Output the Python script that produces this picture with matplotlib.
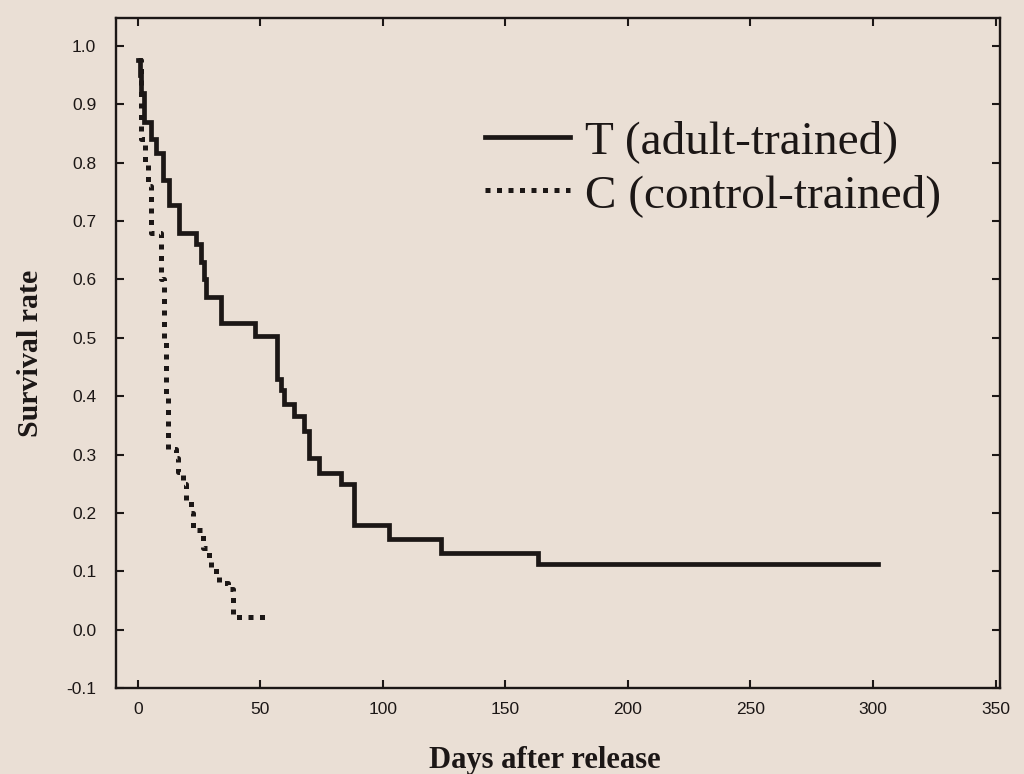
import matplotlib
matplotlib.use("Agg")
import matplotlib.pyplot as plt

# Data (Kaplan-Meier style step curves)
t_days = [0, 0.8, 1.5, 2.4, 5.3, 7.3, 10.2, 12.7, 17, 23.7, 25.7, 27, 28, 33.9,
          48, 57, 58.4, 59.6, 63.7, 67.8, 69.8, 73.9, 82.9, 88.2, 102.4, 123.7,
          163.3, 302]
t_surv = [0.976, 0.95, 0.92, 0.87, 0.84, 0.816, 0.77, 0.727, 0.68, 0.66, 0.63,
          0.60, 0.569, 0.526, 0.503, 0.43, 0.41, 0.387, 0.366, 0.34, 0.294,
          0.268, 0.249, 0.18, 0.156, 0.131, 0.112, 0.112]

c_days = [0, 1.5, 3, 4, 5.5, 9.5, 10.5, 11.5, 12.5, 15.5, 16.5, 18.4, 19.5,
          21.6, 22.5, 26.5, 29, 30, 33, 36.7, 38.8, 52]
c_surv = [0.976, 0.84, 0.80, 0.76, 0.68, 0.60, 0.50, 0.40, 0.31, 0.294, 0.27,
          0.25, 0.22, 0.20, 0.17, 0.14, 0.12, 0.10, 0.08, 0.07, 0.022, 0.022]

legend_labels = ["T (adult-trained)", "C (control-trained)"]
x_ticks = [0, 50, 100, 150, 200, 250, 300, 350]
y_ticks = [-0.1, 0.0, 0.1, 0.2, 0.3, 0.4, 0.5, 0.6, 0.7, 0.8, 0.9, 1.0]

bg = "#eadfd5"
ink = "#1c1716"

fig = plt.figure(figsize=(10.24, 7.74), dpi=100, facecolor=bg)
ax = fig.add_axes([0.113, 0.111, 0.864, 0.866], facecolor=bg)

l1, = ax.plot(t_days, t_surv, drawstyle="steps-post", color=ink, lw=3.4,
              solid_joinstyle="miter")
l2, = ax.plot(c_days, c_surv, drawstyle="steps-post", color=ink, lw=3.6,
              linestyle=(0, (1, 1.3)), dash_capstyle="butt")

ax.set_xlim(-9, 352)
ax.set_ylim(-0.1, 1.048)
ax.set_xticks(x_ticks)
ax.set_yticks(y_ticks)
ax.set_xticklabels([str(v) for v in x_ticks])
ax.set_yticklabels([f"{v:.1f}" for v in y_ticks])

ax.tick_params(direction="in", length=6, width=1.5, color=ink,
               top=True, right=True, labeltop=False, labelright=False,
               labelsize=12.5, labelcolor=ink)
ax.tick_params(axis="y", pad=14)
ax.tick_params(axis="x", pad=10)
for lab in ax.get_xticklabels() + ax.get_yticklabels():
    lab.set_family("Liberation Sans")
for s in ax.spines.values():
    s.set_linewidth(1.7)
    s.set_color(ink)

ax.set_xlabel("Days after release", family="Liberation Serif", weight="bold",
              fontsize=22, color=ink)
ax.xaxis.set_label_coords(0.485, -0.108, transform=ax.transAxes)
ax.xaxis.label.set_va("center")
ax.set_ylabel("Survival rate", family="Liberation Serif", weight="bold",
              fontsize=21.5, color=ink, labelpad=16)

leg = ax.legend([l1, l2], legend_labels, loc="upper left",
                bbox_to_anchor=(0.391, 0.882), frameon=False, borderpad=0,
                prop={"family": "Liberation Serif", "size": 34},
                handlelength=1.8, handletextpad=0.32, labelspacing=0.22)
for txt in leg.get_texts():
    txt.set_color(ink)

fig.savefig("out.png", dpi=100, facecolor=bg)
